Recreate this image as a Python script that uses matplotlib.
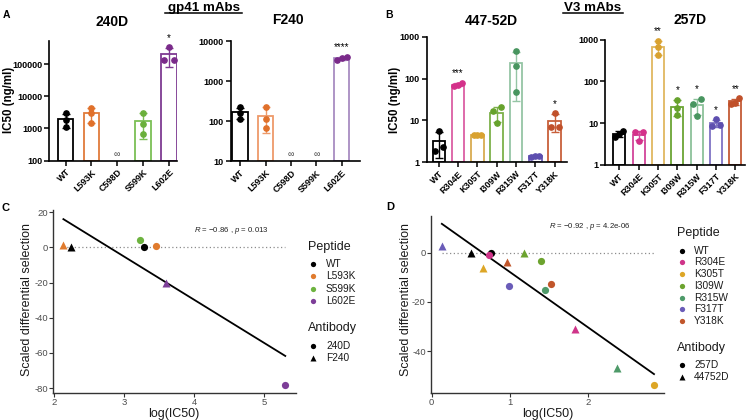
import numpy as np
import matplotlib
matplotlib.use('Agg')
import matplotlib.pyplot as plt
from matplotlib.lines import Line2D
from matplotlib.ticker import FixedLocator, FixedFormatter, NullLocator

plt.rcParams['font.family'] = ['Liberation Sans', 'DejaVu Sans']
plt.rcParams['axes.unicode_minus'] = False
plt.rcParams['mathtext.fontset'] = 'custom'
plt.rcParams['mathtext.it'] = 'Liberation Sans:italic'
plt.rcParams['mathtext.rm'] = 'Liberation Sans'

W, H = 749, 420

# ---------------- data: bar panels ----------------
gp41_peptides = ['WT', 'L593K', 'C598D', 'S599K', 'L602E']
ic50_240D = [[2920, 1860, 1130], [4470, 2920, 1530], None, [3060, 1360, 690],
             [340000, 132000, 132000]]
ic50_F240 = [[224, 158, 117], [233, 112, 68], None, None, [3350, 4060, 3760]]
stars_240D = ['', '', '', '', '*']
stars_F240 = ['', '', '', '', '****']

v3_peptides = ['WT', 'R304E', 'K305T', 'I309W', 'R315W', 'F317T', 'Y318K']
ic50_44752D = [[5.5, 1.9, 2.3], [70, 77, 68], [4.6, 4.4, 4.6], [20.5, 16.8, 8.5],
               [454, 203, 47.6], [1.44, 1.36, 1.42], [14.8, 7.1, 7.1]]
ic50_257D = [[6.5, 5.4, 4.8], [6.0, 6.0, 3.7], [948, 680, 430], [36, 23.6, 15.7],
             [38, 29, 15], [12.4, 8.6, 9.0], [39.5, 29, 31]]
stars_44752D = ['', '***', '', '', '', '', '*']
stars_257D = ['', '', '**', '*', '*', '*', '**']

ticks_240D = [100, 1000, 10000, 100000]
ticks_F240 = [10, 100, 1000, 10000]
ticks_v3 = [1, 10, 100, 1000]

# ---------------- data: scatter panels ----------------
C_peptide = ['WT', 'L593K', 'S599K', 'L602E', 'WT', 'L593K', 'L602E']
C_antibody = ['240D', '240D', '240D', '240D', 'F240', 'F240', 'F240']
C_logic50 = [3.28, 3.45, 3.23, 5.30, 2.24, 2.13, 3.59]
C_selection = [0, 1.0, 4.0, -78, 0, 1.3, -20]
C_annot = '$R$ = \u22120.86 , $p$ = 0.013'

D_peptide = ['WT', 'R304E', 'K305T', 'I309W', 'R315W', 'F317T', 'Y318K',
             'WT', 'R304E', 'K305T', 'I309W', 'R315W', 'F317T', 'Y318K']
D_antibody = ['257D'] * 7 + ['44752D'] * 7
D_logic50 = [0.76, 0.73, 2.85, 1.405, 1.45, 0.996, 1.53,
             0.50, 1.84, 0.653, 1.18, 2.37, 0.13, 0.97]
D_selection = [0, -0.9, -53.7, -3.2, -15.1, -13.5, -12.6,
               0, -31.1, -6.3, 0, -46.9, 2.7, -3.9]
D_annot = '$R$ = \u22120.92 , $p$ = 4.2e-06'

# ---------------- colours ----------------
pt_col = {'WT': '#000000', 'L593K': '#E0702A', 'S599K': '#6AAF3A', 'L602E': '#7A2A8A',
          'R304E': '#D4318A', 'K305T': '#D9A230', 'I309W': '#66A22C', 'R315W': '#48955F',
          'F317T': '#5D4EAF', 'Y318K': '#C0502A'}
sc_col = {'WT': '#000000', 'L593K': '#E07B2E', 'S599K': '#6DB33F', 'L602E': '#7D3E98',
          'R304E': '#CF3489', 'K305T': '#DDA626', 'I309W': '#6CA32E', 'R315W': '#4E9A69',
          'F317T': '#6A5CB8', 'Y318K': '#C1562B'}
edge_240D = ['#000000', '#E07B3A', None, '#7BBF55', '#7E3A92']
edge_F240 = ['#000000', '#EE9A6A', None, None, '#A88CC2']
edge_44752D = ['#000000', '#DB5FA4', '#D9AB50', '#7DB14A', '#95C5A5', '#6B5DB5', '#C8603A']
edge_257D = ['#000000', '#D2449A', '#E0B860', '#6BA534', '#8CC19A', '#7F73C4', '#C45A35']

fig = plt.figure(figsize=(W / 100, H / 100), dpi=100)


def px_axes(l, t, r, b):
    return fig.add_axes([l / W, 1 - b / H, (r - l) / W, (b - t) / H])


def ftext(x, y, s, **kw):
    return fig.text(x / W, 1 - y / H, s, **kw)


def spread(vals, th=0.12):
    logs = np.log10(vals)
    order = np.argsort(logs)
    offs = np.zeros(len(vals))
    groups = [[order[0]]]
    for k in order[1:]:
        if logs[k] - logs[groups[-1][-1]] < th:
            groups[-1].append(k)
        else:
            groups.append([k])
    for g in groups:
        n = len(g)
        dx = 0.42 if n == 2 else 0.2
        for j, k in enumerate(g):
            offs[k] = (j - (n - 1) / 2) * dx
    return offs


def bar_panel(rect, peps, reps, stars, edges, ylim, ticks, xlim, width):
    ax = px_axes(*rect)
    ax.set_yscale('log')
    for i, (p, r) in enumerate(zip(peps, reps)):
        if r is None:
            ax.annotate('\u221e', xy=(i, ylim[0]), xytext=(0, 1.5), textcoords='offset points',
                        ha='center', va='bottom', fontsize=6.5, color='#444444')
            continue
        r = np.array(r, float)
        m = r.mean()
        sd = r.std(ddof=1)
        ec = edges[i]
        ax.bar(i, m - ylim[0], bottom=ylim[0], width=width, facecolor='white',
               edgecolor=ec, linewidth=1.3, zorder=2)
        lo = min(sd, m - ylim[0] * 0.5)
        ax.errorbar(i, m, yerr=[[lo], [sd]], color=ec, lw=1.0, capsize=2.8,
                    capthick=1.0, zorder=3)
        ax.plot(i + spread(r), r, 'o', ms=3.8, color=pt_col[p], zorder=4, clip_on=False)
        if stars[i]:
            ax.annotate(stars[i], xy=(i, m + sd), xytext=(0, 5), textcoords='offset points',
                        ha='center', va='baseline', fontsize=7, annotation_clip=False)
    ax.set_ylim(*ylim)
    ax.set_xlim(*xlim)
    ax.yaxis.set_major_locator(FixedLocator(ticks))
    ax.yaxis.set_major_formatter(FixedFormatter([str(t) for t in ticks]))
    ax.yaxis.set_minor_locator(NullLocator())
    ax.set_xticks(range(len(peps)))
    ax.set_xticklabels(peps, rotation=45, ha='right', rotation_mode='anchor')
    for s in ['top', 'right']:
        ax.spines[s].set_visible(False)
    for s in ['left', 'bottom']:
        ax.spines[s].set_linewidth(1.2)
    ax.tick_params(axis='both', length=3.5, width=1.1, labelsize=6.5, pad=1.5)
    for lab in ax.get_xticklabels() + ax.get_yticklabels():
        lab.set_fontweight('bold')
    return ax


bar_panel((49, 41, 176.7, 160.7), gp41_peptides, ic50_240D, stars_240D, edge_240D,
          (100, 5.2e5), ticks_240D, (-0.64, 4.3), 0.6)
bar_panel((230.7, 41.3, 360, 161.3), gp41_peptides, ic50_F240, stars_F240, edge_F240,
          (10, 10000), ticks_F240, (-0.37, 4.72), 0.6)
bar_panel((426.7, 36.7, 566.7, 162.3), v3_peptides, ic50_44752D, stars_44752D, edge_44752D,
          (1, 1000), ticks_v3, (-0.63, 6.63), 0.65)
bar_panel((605, 39.7, 745, 165), v3_peptides, ic50_257D, stars_257D, edge_257D,
          (1, 1000), ticks_v3, (-0.74, 6.5), 0.62)

# titles / headers
ftext(112, 22, '240D', ha='center', va='center', fontsize=10, fontweight='bold')
ftext(288, 20, 'F240', ha='center', va='center', fontsize=10, fontweight='bold')
ftext(491, 21, '447-52D', ha='center', va='center', fontsize=10, fontweight='bold')
ftext(690, 20, '257D', ha='center', va='center', fontsize=10, fontweight='bold')
ftext(203.7, 10.8, 'gp41 mAbs', ha='center', va='baseline', fontsize=9.6, fontweight='bold')
ftext(593, 10.8, 'V3 mAbs', ha='center', va='baseline', fontsize=9.6, fontweight='bold')
fig.add_artist(Line2D([165 / W, 242.3 / W], [1 - 13.2 / H, 1 - 13.2 / H], color='black',
                      lw=1.1, transform=fig.transFigure))
fig.add_artist(Line2D([562.7 / W, 623.3 / W], [1 - 13.2 / H, 1 - 13.2 / H], color='black',
                      lw=1.1, transform=fig.transFigure))
ftext(9.5, 100, 'IC50 (ng/ml)', ha='center', va='center', rotation=90, fontsize=8.3,
      fontweight='bold')
ftext(395, 100, 'IC50 (ng/ml)', ha='center', va='center', rotation=90, fontsize=8.3,
      fontweight='bold')
ftext(6, 14.5, 'A', ha='center', va='center', fontsize=7.5, fontweight='bold')
ftext(389, 14.5, 'B', ha='center', va='center', fontsize=7.5, fontweight='bold')
ftext(5.5, 208, 'C', ha='center', va='center', fontsize=8, fontweight='bold')
ftext(390, 207, 'D', ha='center', va='center', fontsize=8, fontweight='bold')

marker_of = {'240D': 'o', 'F240': '^', '257D': 'o', '44752D': '^'}


def scatter_panel(rect, xlim, ylim, xticks, yticks, peps, abs_, xs, ys, annot, annot_xy):
    ax = px_axes(*rect)
    xs = np.array(xs, float)
    ys = np.array(ys, float)
    ax.plot([xs.min(), xs.max()], [0, 0], ls=(0, (1, 2)), color='#8C8C8C', lw=0.9, zorder=1)
    for p, a, x, y in zip(peps, abs_, xs, ys):
        m = marker_of[a]
        ax.plot(x, y, m, ms=5.2 if m == 'o' else 5.8, color=sc_col[p], mec='none', zorder=3,
                clip_on=False)
    fit = np.polyfit(xs, ys, 1)
    xx = np.array([xs.min(), xs.max()])
    ax.plot(xx, np.polyval(fit, xx), color='black', lw=1.3, zorder=2)
    ax.text(annot_xy[0], annot_xy[1], annot, fontsize=5.6, color='#222222', ha='left',
            va='center')
    ax.set_xlim(*xlim)
    ax.set_ylim(*ylim)
    ax.set_xticks(xticks)
    ax.set_yticks(yticks)
    for s in ['top', 'right']:
        ax.spines[s].set_visible(False)
    for s in ['left', 'bottom']:
        ax.spines[s].set_linewidth(1.0)
        ax.spines[s].set_color('#333333')
    ax.tick_params(axis='both', length=3.0, width=0.8, color='#333333', labelsize=6.8,
                   labelcolor='#4D4D4D', pad=0.8)
    return ax


scatter_panel((53.3, 210, 295.7, 392.7), (1.986, 5.449), (-82.6, 21.2), [2, 3, 4, 5],
              [20, 0, -20, -40, -60, -80], C_peptide, C_antibody, C_logic50, C_selection,
              C_annot, (4.0, 9.8))
scatter_panel((431, 215.7, 664.3, 392.7), (-0.009, 2.982), (-56.8, 15.0), [0, 1, 2],
              [0, -20, -40], D_peptide, D_antibody, D_logic50, D_selection,
              D_annot, (1.5, 10.5))

ftext(27.5, 300, 'Scaled differential selection', ha='center', va='center', rotation=90,
      fontsize=9, color='#1A1A1A')
ftext(174, 414, 'log(IC50)', ha='center', va='center', fontsize=9, color='#1A1A1A')
ftext(406.5, 300, 'Scaled differential selection', ha='center', va='center', rotation=90,
      fontsize=9, color='#1A1A1A')
ftext(548, 414, 'log(IC50)', ha='center', va='center', fontsize=9, color='#1A1A1A')


def legend_block(x_title, y_title, pep_list, ab_list, y_items, y_ab_title, y_abs, mx, tx):
    ftext(x_title, y_title, 'Peptide', ha='left', va='center', fontsize=9, color='#1A1A1A')
    for p, y in zip(pep_list, y_items):
        fig.add_artist(Line2D([mx / W], [1 - y / H], marker='o', ms=3.8, color=sc_col[p],
                              mec='none', ls='none', transform=fig.transFigure))
        ftext(tx, y, p, ha='left', va='center', fontsize=7.3, color='#1A1A1A')
    ftext(x_title, y_ab_title, 'Antibody', ha='left', va='center', fontsize=9, color='#1A1A1A')
    for a, y in zip(ab_list, y_abs):
        m = marker_of[a]
        fig.add_artist(Line2D([mx / W], [1 - y / H], marker=m, ms=3.8 if m == 'o' else 4.3,
                              color='black', mec='none', ls='none', transform=fig.transFigure))
        ftext(tx, y, a, ha='left', va='center', fontsize=7.3, color='#1A1A1A')


legend_block(307.7, 246.7, ['WT', 'L593K', 'S599K', 'L602E'], ['240D', 'F240'],
             [264, 276.3, 288.6, 300.9], 328, [345.7, 357.7], 313.3, 326)
legend_block(676.7, 233.3, v3_peptides, ['257D', '44752D'],
             [250.7 + 11.75 * i for i in range(7)], 347.7, [364.7, 376.7], 681.7, 694)

fig.savefig('out.png', dpi=100)
